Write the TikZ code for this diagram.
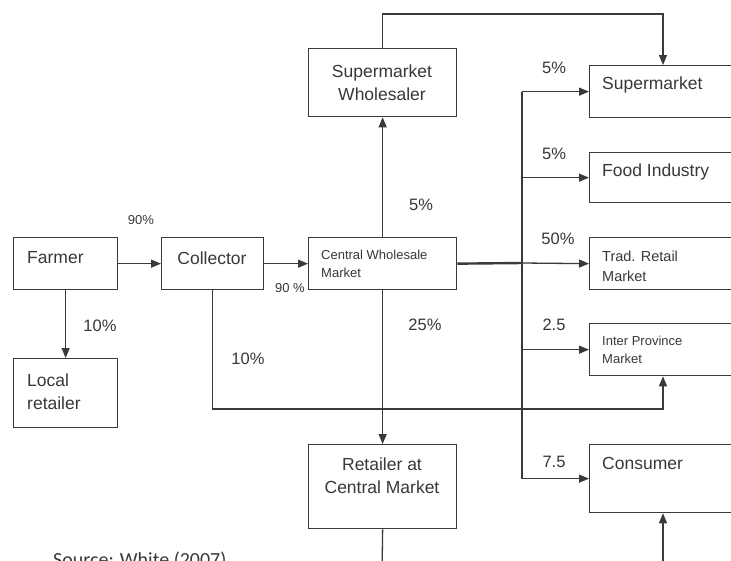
\documentclass[tikz,border=0pt]{standalone}
\usepackage{fontspec}
\setmainfont{Liberation Sans}
\newfontfamily\srcfont{Carlito}
\usetikzlibrary{arrows.meta}
\definecolor{linec}{HTML}{3A3A3A}
\definecolor{txtc}{HTML}{383838}
\tikzset{
  box/.style={draw=linec, line width=1.3pt, inner sep=0pt, anchor=north west},
  conn/.style={draw=linec, line width=1.3pt},
  arr/.style={conn, -{Triangle[length=10pt,width=8pt]}},
  big/.style={text=txtc, inner sep=0pt, font=\fontsize{17.5}{23}\selectfont},
  mid/.style={text=txtc, inner sep=0pt, font=\fontsize{16.5}{20}\selectfont},
  small/.style={text=txtc, inner sep=0pt, font=\fontsize{13}{18}\selectfont},
  trad/.style={text=txtc, inner sep=0pt, font=\fontsize{14.5}{20}\selectfont},
}
\begin{document}
\begin{tikzpicture}[x=1pt,y=-1pt]
\useasboundingbox (0,0) rectangle (731,560);
\fill[white] (0,0) rectangle (731,560);
% boxes
\node[box, minimum width=104pt, minimum height=52pt] (farmer) at (13,237) {};
\node[box, minimum width=104pt, minimum height=69pt] (local) at (13,358) {};
\node[box, minimum width=102pt, minimum height=52pt] (coll) at (161,237) {};
\node[box, minimum width=148pt, minimum height=52pt] (cwm) at (308,237) {};
\node[box, minimum width=148pt, minimum height=68pt] (sw) at (308,48) {};
\node[box, minimum width=148pt, minimum height=84pt] (rcm) at (308,444) {};
\node[box, minimum width=171pt, minimum height=52pt] (smk) at (589,65) {};
\node[box, minimum width=171pt, minimum height=50pt] (food) at (589,152) {};
\node[box, minimum width=171pt, minimum height=52pt] (trad) at (589,237) {};
\node[box, minimum width=171pt, minimum height=52pt] (inter) at (589,323) {};
\node[box, minimum width=171pt, minimum height=68pt] (cons) at (589,444) {};
% box texts
\node[big, anchor=west] (tfarmer) at (27,258) {Farmer};
\node[big, anchor=west, align=left] (tlocal) at (27,392) {Local\\retailer};
\node[big] (tcoll) at (212,258) {Collector};
\node[small, anchor=west, align=left] (tcwm) at (321,264) {Central Wholesale\\Market};
\node[big, align=center] (tsw) at (382,83) {Supermarket\\Wholesaler};
\node[big, align=center] (trcm) at (382,476) {Retailer at\\Central Market};
\node[big, anchor=west] (tsmk) at (602,85) {Supermarket};
\node[big, anchor=west] (tfood) at (602,172) {Food Industry};
\node[trad, anchor=west, align=left] (ttrad) at (602,266) {Trad. Retail\\Market};
\node[small, anchor=west, align=left] (tinter) at (602,350) {Inter Province\\Market};
\node[big, anchor=west] (tcons) at (602,463) {Consumer};
% connectors
\draw[arr] (farmer.east) -- (coll.west);
\draw[arr] (farmer.south) -- (local.north);
\draw[arr] (coll.east) -- (cwm.west);
\coordinate (c1) at (663,409);
\draw[arr] (coll.south) |- (c1) -- (c1 |- inter.south);
\draw[arr] (cwm.north) -- (sw.south);
\draw[arr] (cwm.south) -- (rcm.north);
\coordinate (t1) at (663,14);
\draw[arr] (sw.north) |- (t1) -- (t1 |- smk.north);
\coordinate (bx) at (522,263);
\draw[conn, line width=2.4pt] (cwm.east) -- (bx);
\draw[conn] (bx |- smk.west) -- (bx |- cons.west);
\draw[arr] (bx |- smk.west) -- (smk.west);
\draw[arr] (bx |- food.west) -- (food.west);
\draw[arr] (bx) -- (trad.west);
\draw[arr] (bx |- inter.west) -- (inter.west);
\draw[arr] (bx |- cons.west) -- (cons.west);
\coordinate (b1) at (382,575);
\draw[conn] (rcm.south) -- (b1);
\coordinate (b2) at (663,575);
\draw[arr] (b2) -- (b2 |- cons.south);
% labels
\node[small] (l90a) at (141,220) {90\%};
\node[mid] (l10a) at (100,326) {10\%};
\node[small] (l90b) at (290,288) {90 \%};
\node[mid] (l10b) at (248,359) {10\%};
\node[mid] (l5c) at (421,205) {5\%};
\node[mid] (l25) at (425,325) {25\%};
\node[mid] (l5a) at (554,68) {5\%};
\node[mid] (l5b) at (554,154) {5\%};
\node[mid] (l50) at (558,239) {50\%};
\node[mid] (l25b) at (554,325) {2.5};
\node[mid] (l75) at (554,462) {7.5};
\node[text=txtc, inner sep=0pt, anchor=base west, font=\srcfont\fontsize{20}{24}\selectfont] (src) at (53,566) {Source: White (2007)};
\end{tikzpicture}
\end{document}
